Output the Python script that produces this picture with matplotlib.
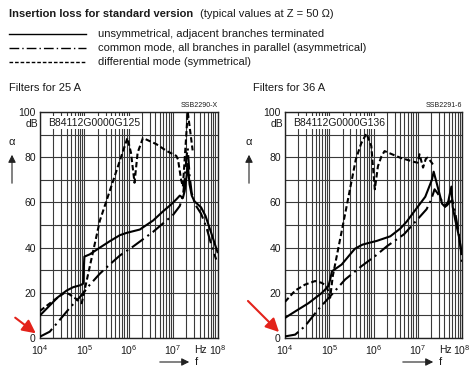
import numpy as np
import matplotlib
matplotlib.use("Agg")
import matplotlib.pyplot as plt
from matplotlib.lines import Line2D
from matplotlib.patches import FancyArrowPatch
from matplotlib.ticker import MultipleLocator, FuncFormatter, LogLocator, FixedLocator

plt.rcParams['font.family'] = ['Liberation Sans', 'DejaVu Sans']
plt.rcParams['mathtext.fontset'] = 'custom'
plt.rcParams['mathtext.rm'] = 'Liberation Sans'
plt.rcParams['mathtext.it'] = 'Liberation Sans:italic'

# ---------------- data (log10 of frequency in Hz, attenuation in dB) ----------------
# Filters for 25 A  (B84112G0000G125)
a25_sym_logf = [4.0, 4.2, 4.4, 4.6, 4.75, 4.9, 4.97, 5.0, 5.12, 5.35, 5.57, 5.8, 5.95, 6.25,
                6.55, 6.77, 6.95, 7.07, 7.15, 7.22, 7.26, 7.3, 7.33, 7.37, 7.42, 7.48, 7.63,
                7.73, 7.85, 7.95, 8.0]
a25_sym_db = [10, 14, 18, 21, 22.5, 23.3, 24, 36, 37, 40, 42.8, 45.5, 46.5, 48,
              52, 56, 59, 61.3, 63, 62, 65, 71, 77, 68, 63, 60.5, 57.8,
              54, 47, 41, 38]
a25_cm_logf = [4.0, 4.22, 4.41, 4.67, 4.94, 5.12, 5.35, 5.57, 5.8, 6.1, 6.55, 7.0, 7.15,
               7.22, 7.26, 7.3, 7.33, 7.37, 7.42, 7.5, 7.63, 7.75, 7.85, 7.97]
a25_cm_db = [0.6, 2.8, 7.2, 13.3, 19, 23.5, 28.5, 32.5, 36.5, 40.5, 47, 54.5, 58.4,
             62.8, 70, 80, 84, 72, 64, 59, 55, 49, 42, 34.7]
a25_dm_logf = [4.0, 4.3, 4.55, 4.65, 4.8, 4.94, 5.35, 5.97, 6.05, 6.13, 6.2, 6.32, 6.62,
               6.85, 7.07, 7.11, 7.18, 7.22, 7.33, 7.44]
a25_dm_db = [12, 16.5, 20, 19.5, 17.5, 15.4, 52, 88.5, 82, 68.7, 82, 88.5, 85.8,
             82.8, 80.6, 79, 70, 67, 100, 83]

# Filters for 36 A  (B84112G0000G136)
a36_sym_logf = [4.0, 4.25, 4.53, 4.83, 4.98, 5.02, 5.06, 5.28, 5.45, 5.58, 5.75, 5.88, 6.08,
                6.38, 6.61, 6.75, 6.94, 7.17, 7.32, 7.36, 7.43, 7.55, 7.62, 7.69, 7.76, 7.79,
                7.85, 7.93, 7.97, 8.0]
a36_sym_db = [8.9, 12, 15.4, 19.9, 22.9, 25.8, 29.5, 32.5, 36.5, 39.5, 41.3, 42, 43,
              45, 48.5, 51.5, 56.5, 62.5, 70, 73.6, 68.4, 59.4, 58, 60.5, 67, 58,
              52, 45, 40, 37.6]
a36_cm_logf = [4.0, 4.23, 4.45, 4.75, 5.06, 5.36, 5.73, 6.04, 6.31, 6.69, 6.99, 7.2, 7.3,
               7.38, 7.45, 7.55, 7.65, 7.72, 7.78, 7.85, 7.92, 7.97, 8.0]
a36_cm_db = [0.7, 1.5, 5.2, 12.6, 19.3, 25.9, 31.8, 36.3, 40.7, 45.9, 52.4, 57, 61,
             65.8, 64, 60.5, 58.5, 60, 61, 55, 47, 40, 33]
a36_dm_logf = [4.0, 4.23, 4.45, 4.68, 4.83, 4.94, 5.02, 5.08, 5.38, 5.6, 5.72, 5.84, 5.95,
               6.03, 6.1, 6.18, 6.25, 6.6, 6.94, 7.0, 7.04, 7.12, 7.18, 7.22, 7.3, 7.37]
a36_dm_db = [16, 21, 23.6, 25.2, 24.4, 23, 17.8, 27.4, 57, 79, 86, 90.5, 85,
             65.8, 76, 80.4, 82.7, 79.8, 77.8, 77.6, 81.3, 75.4, 79.2, 79.8, 78, 76]

y_ticks = [0, 20, 40, 60, 80, 100]
x_tick_labels = ['$10^4$', '$10^5$', '$10^6$', '$10^7$', '$10^8$']
panel_titles = ['Filters for 25 A', 'Filters for 36 A']
part_numbers = ['B84112G0000G125', 'B84112G0000G136']
sheet_codes = ['SSB2290-X', 'SSB2291-6']
legend_texts = ['unsymmetrical, adjacent branches terminated',
                'common mode, all branches in parallel (asymmetrical)',
                'differential mode (symmetrical)']

# ---------------- figure ----------------
W, H = 474, 370
fig = plt.figure(figsize=(W / 100, H / 100), dpi=100)
TXT = '#1a1a1a'

def fx(px):
    return px / W

def fy(py):
    return 1 - py / H

sym_style = dict(color='black', lw=1.5, linestyle='-')
cm_style = dict(color='black', lw=1.5, linestyle=(0, (7, 2.2, 1, 2.2)))
dm_style = dict(color='black', lw=1.5, linestyle=(0, (2.6, 1.4)))

# heading
fig.text(fx(9), fy(14), 'Insertion loss for standard version', fontsize=8,
         fontweight='bold', color=TXT, va='center', ha='left')
fig.text(fx(200), fy(14), '(typical values at Z = 50 \u03a9)', fontsize=8,
         color=TXT, va='center', ha='left')

# legend samples
leg_y = [34, 48, 62]
for yy, st, tx in zip(leg_y, [sym_style, cm_style, dm_style], legend_texts):
    st2 = dict(st)
    st2['lw'] = 1.0
    fig.add_artist(Line2D([fx(9), fx(86)], [fy(yy), fy(yy)], transform=fig.transFigure, **st2))
    fig.text(fx(98), fy(yy), tx, fontsize=8, color=TXT, va='center', ha='left')

panels = [
    dict(left=40, right=217.5, sym=(a25_sym_logf, a25_sym_db), cm=(a25_cm_logf, a25_cm_db),
         dm=(a25_dm_logf, a25_dm_db), title_x=9, alpha_x=12, arrow=((13, 316), (38, 335)),
         f_arrow=(157, 192)),
    dict(left=285, right=462, sym=(a36_sym_logf, a36_sym_db), cm=(a36_cm_logf, a36_cm_db),
         dm=(a36_dm_logf, a36_dm_db), title_x=253, alpha_x=249, arrow=((246, 299), (281, 334)),
         f_arrow=(400, 436)),
]
top_px, bot_px = 112, 338

for i, p in enumerate(panels):
    ax = fig.add_axes([fx(p['left']), fy(bot_px), (p['right'] - p['left']) / W,
                       (bot_px - top_px) / H])
    ax.set_xscale('log')
    ax.set_xlim(1e4, 1e8)
    ax.set_ylim(0, 100)
    ax.yaxis.set_major_locator(MultipleLocator(10))
    ax.yaxis.set_major_formatter(FuncFormatter(lambda v, pos: f'{int(round(v))}' if int(round(v)) in y_ticks else ''))
    ax.xaxis.set_major_locator(FixedLocator([1e4, 1e5, 1e6, 1e7, 1e8]))
    ax.set_xticklabels(x_tick_labels)
    ax.xaxis.set_minor_locator(LogLocator(base=10, subs=np.arange(2, 10), numticks=20))
    ax.tick_params(which='both', length=0, labelsize=7.5, colors=TXT, pad=3)
    ax.tick_params(axis='x', pad=3.5)
    ax.grid(which='major', axis='both', color='#3a3a3a', lw=0.8)
    ax.grid(which='minor', axis='x', color='#3a3a3a', lw=0.8)
    ax.set_axisbelow(True)
    for s in ax.spines.values():
        s.set_color('#222')
        s.set_linewidth(1.0)

    for key, st in (('cm', cm_style), ('dm', dm_style), ('sym', sym_style)):
        lf, db = p[key]
        ax.plot(10 ** np.asarray(lf), db, zorder=4, **st)

    ax.text(0.045, 0.953, part_numbers[i], transform=ax.transAxes, fontsize=7.5,
            color=TXT, ha='left', va='center', zorder=3,
            bbox=dict(facecolor='white', edgecolor='none', pad=1.2))
    ax.text(1.0, 1.03, sheet_codes[i], transform=ax.transAxes, fontsize=5,
            color=TXT, ha='right', va='center')
    ax.text(-0.012, 94.5, 'dB', transform=ax.get_yaxis_transform(), fontsize=7.5,
            color=TXT, ha='right', va='center')
    ax.text(0.905, -0.052, 'Hz', transform=ax.transAxes, fontsize=7.5,
            color=TXT, ha='center', va='center')

    # panel heading
    fig.text(fx(p['title_x']), fy(88), panel_titles[i], fontsize=8, color=TXT,
             ha='left', va='center')
    # alpha with upward arrow
    fig.text(fx(p['alpha_x']), fy(142), '\u03b1', fontsize=8, color=TXT, ha='center', va='center')
    fig.add_artist(FancyArrowPatch((fx(p['alpha_x']), fy(186)), (fx(p['alpha_x']), fy(152)),
                                   transform=fig.transFigure, arrowstyle='-|>,head_length=3,head_width=1.5',
                                   color='#222', lw=0.8, mutation_scale=1.5))
    # f arrow
    a0, a1 = p['f_arrow']
    fig.add_artist(FancyArrowPatch((fx(a0), fy(362)), (fx(a1), fy(362)),
                                   transform=fig.transFigure, arrowstyle='-|>,head_length=3,head_width=1.5',
                                   color='#222', lw=0.8, mutation_scale=1.5))
    fig.text(fx(a1 + 3), fy(362), 'f', fontsize=8, color=TXT, ha='left', va='center')
    # red arrow
    (x0, y0), (x1, y1) = p['arrow']
    fig.add_artist(FancyArrowPatch((fx(x0), fy(y0)), (fx(x1), fy(y1)),
                                   transform=fig.transFigure,
                                   arrowstyle='-|>,head_length=8,head_width=4',
                                   color='#e3231b', lw=1.5, mutation_scale=1))

fig.savefig('out.png', dpi=100)
